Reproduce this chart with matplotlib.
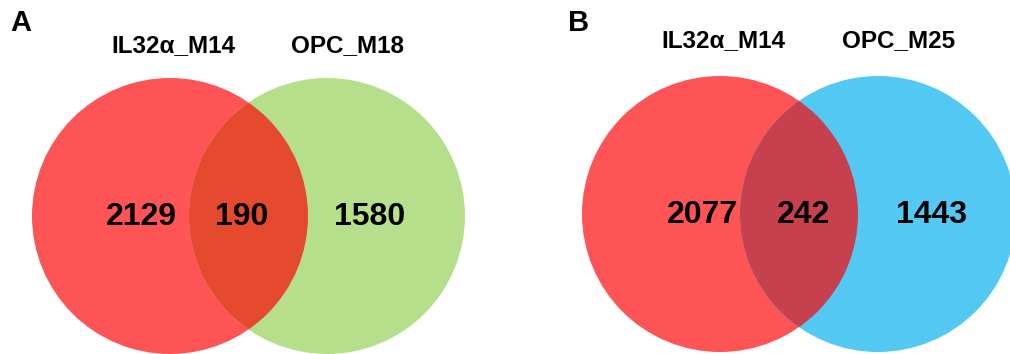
import matplotlib.pyplot as plt
from matplotlib.patches import Circle

plt.rcParams['font.family'] = ['Liberation Sans', 'DejaVu Sans']

panel_letters = ['A', 'B']
set_left = ['IL32α_M14', 'IL32α_M14']
set_right = ['OPC_M18', 'OPC_M25']
only_left = [2129, 2077]
shared = [190, 242]
only_right = [1580, 1443]

left_colors = ['#FF5455', '#FF5455']
right_colors = ['#B5DF8A', '#52C8F2']
overlap_colors = ['#E5492E', '#C6404E']

fig = plt.figure(figsize=(10.10, 3.54), dpi=100)
ax = fig.add_axes([0, 0, 1, 1])
ax.set_xlim(0, 1010)
ax.set_ylim(354, 0)
ax.set_aspect('equal')
ax.axis('off')

# pixel layout of each panel: left circle centre, right circle centre, radius
layout = [
    dict(cl=(170, 216), cr=(327, 216), r=138, letter=(10, 23), lab_y=46),
    dict(cl=(720, 214), cr=(878, 214), r=138, letter=(568, 23), lab_y=41),
]

for i, lay in enumerate(layout):
    cl, cr, r = lay['cl'], lay['cr'], lay['r']
    ax.add_patch(Circle(cl, r, facecolor=left_colors[i], edgecolor='none'))
    ax.add_patch(Circle(cr, r, facecolor=right_colors[i], edgecolor='none'))
    clip = Circle(cl, r, transform=ax.transData)
    ov = Circle(cr, r, facecolor=overlap_colors[i], edgecolor='none')
    ax.add_patch(ov)
    ov.set_clip_path(clip)

    ax.text(lay['letter'][0], lay['letter'][1], panel_letters[i], fontsize=21,
            fontweight='bold', ha='left', va='center')
    ax.text(cl[0] + 3, lay['lab_y'], set_left[i], fontsize=17.5,
            fontweight='bold', ha='center', va='center')
    ax.text(cr[0] + 21, lay['lab_y'], set_right[i], fontsize=17.5,
            fontweight='bold', ha='center', va='center')

    mid = (cl[0] + cr[0]) / 2
    ty = cl[1] + 1
    ax.text(cl[0] - 29 if i == 0 else cl[0] - 18, ty, str(only_left[i]), fontsize=23,
            fontweight='bold', ha='center', va='center')
    ax.text(mid - 7 if i == 0 else mid + 4, ty, str(shared[i]), fontsize=23,
            fontweight='bold', ha='center', va='center')
    ax.text(cr[0] + 43 if i == 0 else cr[0] + 54, ty, str(only_right[i]), fontsize=23,
            fontweight='bold', ha='center', va='center')

plt.savefig('out.png', dpi=100)
